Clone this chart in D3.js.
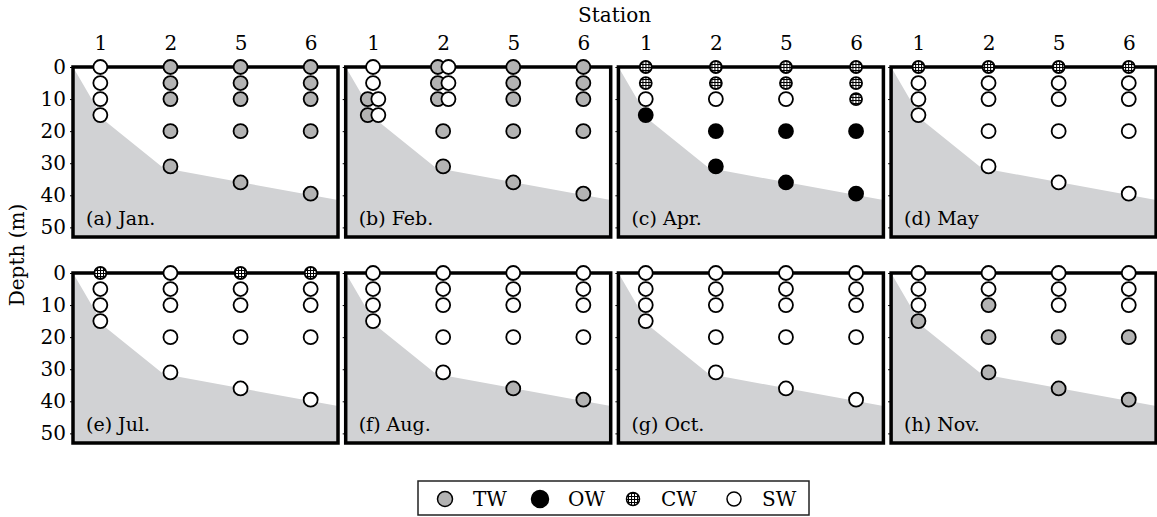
<!DOCTYPE html>
<html>
<head>
<meta charset="utf-8">
<script src="https://cdn.jsdelivr.net/npm/d3@7"></script>
<style>
  body { margin: 0; background: #fff; }
  svg { display: block; }
</style>
</head>
<body>
<div id="chart"></div>
<script>
// stations along the transect and depth ticks
var stations = ['1', '2', '5', '6'];
var depthTicks = [0, 10, 20, 30, 40, 50];
var panelTitles = ['(a) Jan.', '(b) Feb.', '(c) Apr.', '(d) May', '(e) Jul.', '(f) Aug.', '(g) Oct.', '(h) Nov.'];

// sampling depths (m) at each station
var sampleDepths = [
    [0, 5, 10, 15],
    [0, 5, 10, 20, 31],
    [0, 5, 10, 20, 36],
    [0, 5, 10, 20, 39.5]
];

// bottom profile: position in station units (0 = st.1, 3 = st.6) and depth (m)
var bottomPos = [-0.39, 0.05, 0.9, 3.39];
var bottomDepth = [0, 16.5, 31.5, 41.5];

// water mass per station and sample depth
// T = TW, O = OW, C = CW, S = SW, M = TW and SW together
var janWater = ['SSSS', 'TTTTT', 'TTTTT', 'TTTTT'];
var febWater = ['SSMM', 'MMMTT', 'TTTTT', 'TTTTT'];
var aprWater = ['CCSO', 'CCSOO', 'CCSOO', 'CCCOO'];
var mayWater = ['CSSS', 'CSSSS', 'CSSSS', 'CSSSS'];
var julWater = ['CSSS', 'SSSSS', 'CSSSS', 'CSSSS'];
var augWater = ['SSSS', 'SSSSS', 'SSSST', 'SSSST'];
var octWater = ['SSSS', 'SSSSS', 'SSSSS', 'SSSSS'];
var novWater = ['SSST', 'SSTTT', 'SSSTT', 'SSSTT'];
var monthWater = [janWater, febWater, aprWater, mayWater, julWater, augWater, octWater, novWater];

var legendKeys = ['T', 'O', 'C', 'S'];
var legendNames = ['TW', 'OW', 'CW', 'SW'];

var width = 1157, height = 517;
var marginLeft = 73, marginTop = 67;
var panelW = 265, panelH = 170;
var colStep = 272.7, rowStep = 206;
var grayFill = '#d1d2d4', twFill = '#b3b3b3';
var serif = '"DejaVu Serif", "Liberation Serif", serif';
var fontSize = 20;

var svg = d3.select('#chart').append('svg')
    .attr('width', width)
    .attr('height', height);

var defs = svg.append('defs');
var pat = defs.append('pattern')
    .attr('id', 'grid')
    .attr('patternUnits', 'userSpaceOnUse')
    .attr('width', 3)
    .attr('height', 3);
pat.append('rect').attr('width', 3).attr('height', 3).attr('fill', '#fff');
pat.append('path')
    .attr('d', 'M0 0.5H3M0.5 0V3')
    .attr('stroke', '#000')
    .attr('stroke-width', 1.1);

var x = d3.scalePoint().domain(stations).range([0, panelW]).padding(0.39);
var y = d3.scaleLinear().domain([0, 53]).range([0, panelH]);
var xPos = function(p) { return x(stations[0]) + p * x.step(); };

var bottomArea = d3.area()
    .x(function(d) { return xPos(d[0]); })
    .y0(function(d) { return y(d[1]); })
    .y1(panelH);

var setFont = function(sel, size) {
    return sel.style('font-family', serif).style('font-size', size + 'px').attr('fill', '#000');
};

// marker styles per water mass
var drawMarker = function(g, code, cx, cy) {
    var c = g.append('circle')
        .attr('cx', cx)
        .attr('cy', cy)
        .attr('r', 7)
        .attr('stroke', '#000')
        .attr('stroke-width', 1.8);
    if (code == 'T') c.attr('fill', twFill);
    else if (code == 'O') c.attr('fill', '#000');
    else if (code == 'C') c.attr('fill', 'url(#grid)').attr('r', 6);
    else c.attr('fill', '#fff');
    return c;
};

monthWater.forEach(function(water, i) {
    var col = i % 4, row = Math.floor(i / 4);
    var g = svg.append('g')
        .attr('transform', 'translate(' + (marginLeft + col * colStep) + ',' + (marginTop + row * rowStep) + ')');

    g.append('path')
        .datum(d3.zip(bottomPos, bottomDepth))
        .attr('d', bottomArea)
        .attr('fill', grayFill);

    g.append('rect')
        .attr('width', panelW)
        .attr('height', panelH)
        .attr('fill', 'none')
        .attr('stroke', '#000')
        .attr('stroke-width', 3.5);

    // depth ticks on the left border
    var yAxis = d3.axisLeft(y).tickValues(depthTicks).tickSize(3).tickPadding(4);
    if (col > 0) yAxis.tickFormat('');
    var ay = g.append('g').call(yAxis);
    ay.select('.domain').remove();
    setFont(ay.selectAll('text'), fontSize);

    if (row == 0) {
        var ax = g.append('g').call(d3.axisTop(x).tickSize(0).tickPadding(17));
        ax.select('.domain').remove();
        setFont(ax.selectAll('text'), fontSize);
    }

    setFont(g.append('text'), 19)
        .attr('x', 13)
        .attr('y', panelH - 12)
        .text(panelTitles[i]);

    stations.forEach(function(st, s) {
        var codes = water[s].split('');
        codes.forEach(function(code, k) {
            var cy = y(sampleDepths[s][k]);
            if (code == 'M') {
                drawMarker(g, 'T', x(st) - 5.3, cy);
                drawMarker(g, 'S', x(st) + 5.3, cy);
            } else {
                drawMarker(g, code, x(st), cy);
            }
        });
    });
});

setFont(svg.append('text'), fontSize)
    .attr('x', marginLeft + 1.5 * colStep + panelW / 2)
    .attr('y', 22)
    .attr('text-anchor', 'middle')
    .text('Station');

setFont(svg.append('text'), fontSize)
    .attr('transform', 'translate(24,' + (marginTop + (rowStep + panelH) / 2) + ') rotate(-90)')
    .attr('text-anchor', 'middle')
    .text('Depth (m)');

// legend
var lg = svg.append('g').attr('transform', 'translate(418,481)');
lg.append('rect')
    .attr('width', 391)
    .attr('height', 34)
    .attr('fill', '#fff')
    .attr('stroke', '#222')
    .attr('stroke-width', 1.5);
var legendX = [27, 122, 215, 316];
var legendR = [7.5, 8.5, 6.5, 7];
legendKeys.forEach(function(k, i) {
    drawMarker(lg, k, legendX[i], 18).attr('r', legendR[i]).attr('stroke-width', 1.5);
    setFont(lg.append('text'), fontSize)
        .attr('x', legendX[i] + 28)
        .attr('y', 25)
        .text(legendNames[i]);
});
</script>
</body>
</html>
